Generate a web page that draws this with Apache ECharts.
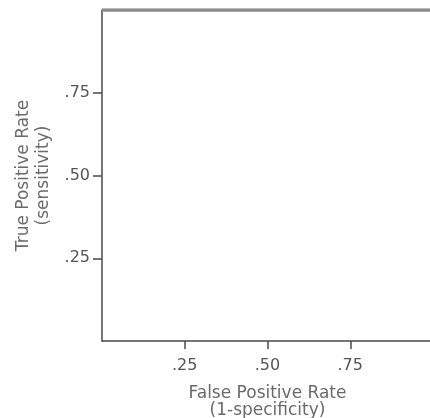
<!DOCTYPE html>
<html>
<head>
<meta charset="utf-8">
<script src="https://cdn.jsdelivr.net/npm/echarts@6/dist/echarts.min.js"></script>
<style>
html,body{margin:0;padding:0;background:#fff;}
#chart{width:430px;height:418px;}
</style>
</head>
<body>
<div id="chart"></div>
<script>
// ROC curve points (visible part: the curve runs along TPR = 1)
var fpr = [0, 1];
var tpr = [1, 1];
// tick values shown on both axes
var tickValues = [0.25, 0.5, 0.75];
var xTitle = 'False Positive Rate\n(1-specificity)';
var yTitle = 'True Positive Rate\n(sensitivity)';

var points = fpr.map(function (v, i) { return [v, tpr[i]]; });
function fmt(v) { return v.toFixed(2).replace(/^0/, ''); }
var font = '"DejaVu Sans", Verdana, sans-serif';

var chart = echarts.init(document.getElementById('chart'), null, {renderer: 'canvas'});
chart.setOption({
  backgroundColor: '#ffffff',
  animation: false,
  grid: {left: 102, top: 10, width: 331, height: 331, containLabel: false, outerBoundsMode: 'none'},
  xAxis: {
    type: 'value', min: 0, max: 1, interval: 0.25,
    name: xTitle, nameLocation: 'middle', nameGap: 44,
    nameTextStyle: {color: '#6a6a6a', fontSize: 17, fontFamily: font, lineHeight: 17},
    axisLine: {show: true, lineStyle: {color: '#4a4a4a', width: 1.5}},
    axisTick: {show: true, length: 8, customValues: tickValues, lineStyle: {color: '#4a4a4a', width: 1.5}},
    axisLabel: {show: true, customValues: tickValues, formatter: fmt, color: '#555', fontSize: 16, fontFamily: font, margin: 17},
    splitLine: {show: false}
  },
  yAxis: {
    type: 'value', min: 0, max: 1, interval: 0.25,
    name: yTitle, nameLocation: 'middle', nameGap: 46, nameRotate: 90,
    nameTextStyle: {color: '#6a6a6a', fontSize: 17, fontFamily: font, lineHeight: 20},
    axisLine: {show: true, lineStyle: {color: '#4a4a4a', width: 1.5}},
    axisTick: {show: true, length: 9, customValues: tickValues, lineStyle: {color: '#4a4a4a', width: 1.5}},
    axisLabel: {show: true, customValues: tickValues, formatter: fmt, color: '#555', fontSize: 16, fontFamily: font, margin: 12},
    splitLine: {show: false}
  },
  series: [{
    type: 'line',
    data: points,
    symbol: 'none',
    z: 1,
    lineStyle: {color: '#8a8a8a', width: 3.5}
  }]
});
</script>
</body>
</html>
